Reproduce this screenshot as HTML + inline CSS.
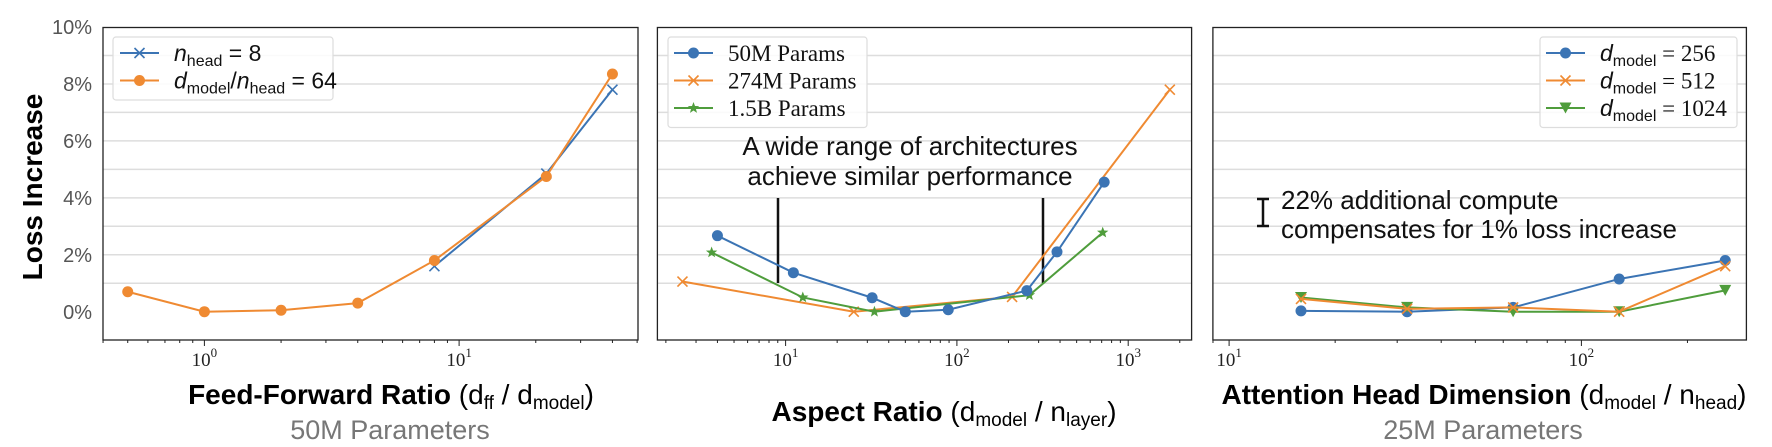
<!DOCTYPE html>
<html><head><meta charset="utf-8"><style>
html,body{margin:0;padding:0;background:#fff;width:1772px;height:447px;overflow:hidden}
svg text{font-family:"Liberation Sans",sans-serif}
.serif{font-family:"Liberation Serif",serif !important}
</style></head><body>
<svg id="chart" width="1772" height="447" xmlns="http://www.w3.org/2000/svg">
<text x="42" y="187" transform="rotate(-90 42 187)" text-anchor="middle" font-size="28" font-weight="bold">Loss Increase</text>
<g font-size="20" fill="#555" text-anchor="end">
<text x="92" y="34">10%</text><text x="92" y="91">8%</text><text x="92" y="148">6%</text><text x="92" y="205">4%</text><text x="92" y="262">2%</text><text x="92" y="319">0%</text>
</g>
<text x="391" y="404" text-anchor="middle" font-size="28"><tspan font-weight="bold">Feed-Forward Ratio</tspan> (d<tspan font-size="19" dy="5">ff</tspan><tspan dy="-5"> / d</tspan><tspan font-size="19" dy="5">model</tspan><tspan dy="-5">)</tspan></text>
<text x="390" y="439" text-anchor="middle" font-size="27" fill="#777">50M Parameters</text>
<text x="944" y="421" text-anchor="middle" font-size="28"><tspan font-weight="bold">Aspect Ratio</tspan> (d<tspan font-size="19" dy="5">model</tspan><tspan dy="-5"> / n</tspan><tspan font-size="19" dy="5">layer</tspan><tspan dy="-5">)</tspan></text>
<text x="1484" y="404" text-anchor="middle" font-size="28"><tspan font-weight="bold">Attention Head Dimension</tspan> (d<tspan font-size="19" dy="5">model</tspan><tspan dy="-5"> / n</tspan><tspan font-size="19" dy="5">head</tspan><tspan dy="-5">)</tspan></text>
<text x="1483" y="439" text-anchor="middle" font-size="27" fill="#777">25M Parameters</text>
</svg>
<script>
const BLUE="#3b74b4",ORANGE="#ef8a32",GREEN="#4f9d3c";
// Panel 1 data
const p1X=[0.5,1,2,4,8,22,40];
const p1Orange=[0.7,0,0.05,0.3,1.8,4.75,8.35];
const p1BlueX=[8,22,40];
const p1Blue=[1.6,4.85,7.8];
// Panel 2 data
const p2BlueX=[4,11.1,32,50,89,256,384,724];
const p2Blue=[2.67,1.37,0.49,0,0.07,0.74,2.1,4.55];
const p2OrangeX=[2.5,25,210,1750];
const p2Orange=[1.06,0,0.52,7.8];
const p2GreenX=[3.7,12.6,33,265,710];
const p2Green=[2.08,0.5,0,0.58,2.78];
// Panel 3 data
const p3X=[16,32,64,128,256];
const p3Blue=[0.03,0,0.15,1.15,1.8];
const p3Orange=[0.45,0.1,0.15,0,1.6];
const p3Green=[0.5,0.15,0,0,0.75];
const yTicks=[0,1,2,3,4,5,6,7,8,9,10];

const svg=document.getElementById('chart');
const NS="http://www.w3.org/2000/svg";
function mk(tag,attrs,parent){const e=document.createElementNS(NS,tag);for(const k in attrs)e.setAttribute(k,attrs[k]);(parent||svg).appendChild(e);return e;}
const yScale=v=>311.7-v*28.47;

function panel(name,left,right,x0px,decPx,x0log){
  const g=mk('g',{});
  
  
  const xs=v=>x0px+(Math.log10(v)-x0log)*decPx;
  yTicks.forEach(t=>{if(t>0&&t<10){const l=mk('line',{x1:left,x2:right,y1:yScale(t),y2:yScale(t),stroke:'#ddd','stroke-width':1.5},g);
    
    }});
  const f=mk('rect',{x:left,y:27.5,width:right-left,height:312.5,fill:'none',stroke:'#222','stroke-width':1.3},g);
  
  
  const lo=x0log-(x0px-left)/decPx, hi=x0log+(right-x0px)/decPx;
  for(let d=Math.floor(lo);d<=Math.ceil(hi);d++){for(let m=1;m<10;m++){const lv=d+Math.log10(m);if(lv<lo||lv>hi)continue;
    const x=x0px+(lv-x0log)*decPx;mk('line',{x1:x,x2:x,y1:340,y2:m===1?346:343,stroke:'#222','stroke-width':1},g);
    if(m===1){const t=mk('text',{x:x,y:366,'text-anchor':'middle','font-size':19,class:'serif',fill:'#222'},g);
      
      
      t.innerHTML='10<tspan font-size="13" dy="-9">'+d+'</tspan>';}}}
  return {g,xs};
}
function series(p,name,xArr,yArr,color,marker){
  const s=mk('g',{},p.g);
  
  
  const pts=xArr.map((x,i)=>[p.xs(x),yScale(yArr[i])]);
  mk('polyline',{points:pts.map(q=>q.join(',')).join(' '),fill:'none',stroke:color,'stroke-width':2},s);
  pts.forEach(q=>drawMarker(s,q[0],q[1],color,marker));
}
function drawMarker(s,x,y,c,m){
  let e;
  if(m==='o')e=mk('circle',{cx:x,cy:y,r:5.5,fill:c},s);
  else if(m==='x'){e=mk('path',{d:`M${x-5},${y-5}L${x+5},${y+5}M${x-5},${y+5}L${x+5},${y-5}`,stroke:c,'stroke-width':1.6,fill:'none'},s);}
  else if(m==='*'){let d='';for(let i=0;i<10;i++){const r=i%2?2.5:6,a=-Math.PI/2+i*Math.PI/5;d+=(i?'L':'M')+(x+r*Math.cos(a)).toFixed(1)+','+(y+r*Math.sin(a)).toFixed(1);}e=mk('path',{d:d+'Z',fill:c},s);}
  else if(m==='v')e=mk('path',{d:`M${x-6},${y-5.5}L${x+6},${y-5.5}L${x},${y+5.5}Z`,fill:c},s);
  
  
}
function legend(p,name,x,y,w,lineX,textX,entries,serif){
  const lg=mk('g',{},p.g);
  
  
  mk('rect',{x:x,y:y,width:w,height:entries.length*27.5+8,rx:3,fill:'#fff','fill-opacity':0.85,stroke:'#ddd','stroke-width':1.2},lg);
  entries.forEach((en,i)=>{
    const cy=y+16+i*27.5;
    const e=mk('g',{},lg);
    
    
    mk('line',{x1:lineX,x2:lineX+39,y1:cy,y2:cy,stroke:en[1],'stroke-width':2},e);
    drawMarker(e,lineX+19.5,cy,en[1],en[2]);
    const t=mk('text',{x:textX,y:cy+8,'font-size':23,fill:'#111'},e);
    if(serif)t.setAttribute('class','serif');
    t.innerHTML=en[0];
  });
}
// Panel 1
const P1=panel('panel-feed-forward',103,638,204.4,254.7,0);
series(P1,'series-nhead-8',p1BlueX,p1Blue,BLUE,'x');
series(P1,'series-dmodel-per-nhead-64',p1X,p1Orange,ORANGE,'o');
legend(P1,'legend-ff',113,37,220,120,174,[
 ['<tspan font-style="italic">n</tspan><tspan font-size="16" dy="5">head</tspan><tspan dy="-5"> = 8</tspan>',BLUE,'x'],
 ['<tspan font-style="italic">d</tspan><tspan font-size="16" dy="5">model</tspan><tspan dy="-5">/</tspan><tspan font-style="italic">n</tspan><tspan font-size="16" dy="5">head</tspan><tspan dy="-5"> = 64</tspan>',ORANGE,'o']],false);
// Panel 2
const P2=panel('panel-aspect-ratio',657.4,1191.6,785.6,171.3,1);
[[778],[1043]].forEach(a=>{const l=mk('line',{x1:a[0],x2:a[0],y1:198,y2:283,stroke:'#111','stroke-width':2.5},P2.g);
  
  });
const at=mk('text',{x:910,y:155,'text-anchor':'middle','font-size':26,fill:'#111'},P2.g);


at.innerHTML='<tspan x="910">A wide range of architectures</tspan><tspan x="910" dy="30">achieve similar performance</tspan>';
series(P2,'series-274m',p2OrangeX,p2Orange,ORANGE,'x');
series(P2,'series-1.5b',p2GreenX,p2Green,GREEN,'*');
series(P2,'series-50m',p2BlueX,p2Blue,BLUE,'o');
legend(P2,'legend-aspect',668,37,199,674,728,[['50M Params',BLUE,'o'],['274M Params',ORANGE,'x'],['1.5B Params',GREEN,'*']],true);
// Panel 3
const P3=panel('panel-head-dimension',1212.9,1746.4,1229.1,352.3,1);
const eb=mk('path',{d:'M1263,199L1263,226M1257,199L1269,199M1257,226L1269,226',stroke:'#111','stroke-width':2.5,fill:'none'},P3.g);


const ct=mk('text',{x:1281,y:209,'font-size':26,fill:'#111'},P3.g);


ct.innerHTML='<tspan x="1281">22% additional compute</tspan><tspan x="1281" dy="29">compensates for 1% loss increase</tspan>';
series(P3,'series-dmodel-256',p3X,p3Blue,BLUE,'o');
series(P3,'series-dmodel-1024',p3X,p3Green,GREEN,'v');
series(P3,'series-dmodel-512',p3X,p3Orange,ORANGE,'x');
const dm='<tspan font-style="italic">d</tspan><tspan font-size="16" dy="5">model</tspan><tspan dy="-5" class="serif"> = ';
legend(P3,'legend-head',1540,37,197,1546,1600,[[dm+'256</tspan>',BLUE,'o'],[dm+'512</tspan>',ORANGE,'x'],[dm+'1024</tspan>',GREEN,'v']],false);
</script>
</body></html>
